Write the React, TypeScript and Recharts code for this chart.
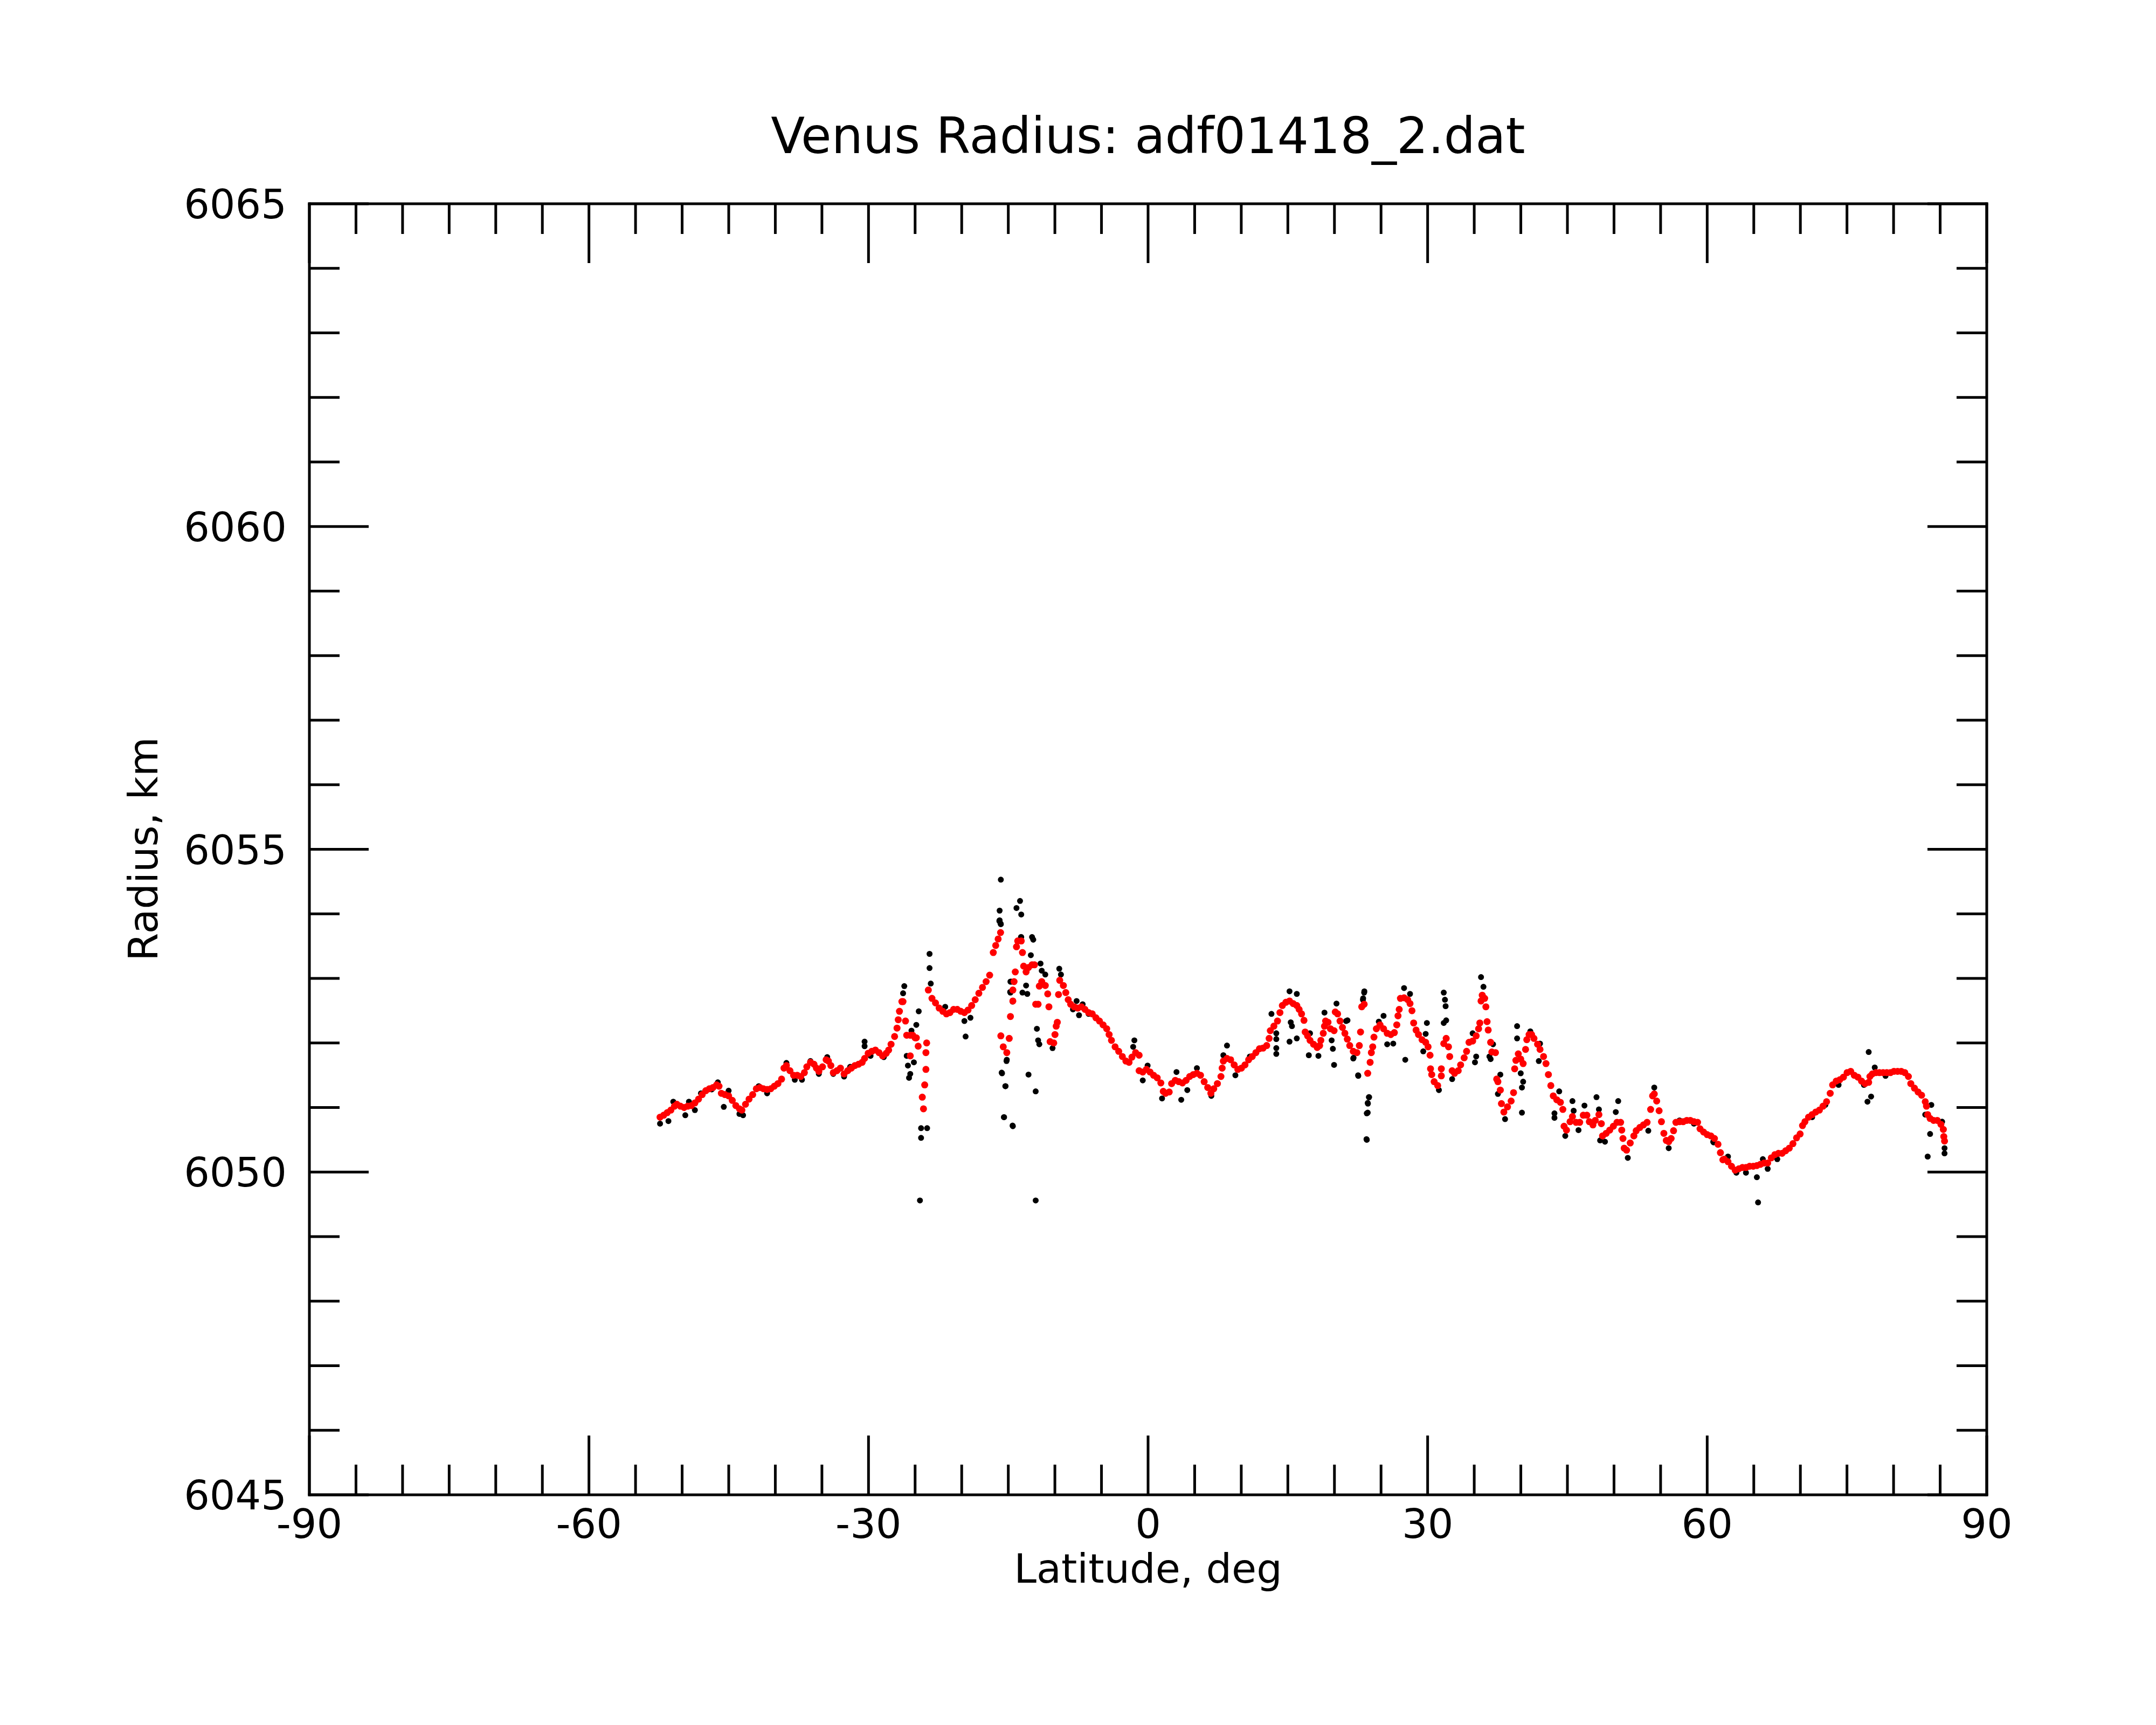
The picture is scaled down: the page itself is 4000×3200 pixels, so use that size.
import React from "react";
import { ScatterChart, Scatter, XAxis, YAxis } from "recharts";

const TITLE = "Venus Radius: adf01418_2.dat";
const X_LABEL = "Latitude, deg";
const Y_LABEL = "Radius, km";

const X_TICKS = [-90, -85, -80, -75, -70, -65, -60, -55, -50, -45, -40, -35, -30, -25, -20, -15, -10, -5, 0, 5, 10, 15, 20, 25, 30, 35, 40, 45, 50, 55, 60, 65, 70, 75, 80, 85, 90];
const X_MAJOR = [-90, -60, -30, 0, 30, 60, 90];
const Y_TICKS = [6045, 6046, 6047, 6048, 6049, 6050, 6051, 6052, 6053, 6054, 6055, 6056, 6057, 6058, 6059, 6060, 6061, 6062, 6063, 6064, 6065];
const Y_MAJOR = [6045, 6050, 6055, 6060, 6065];

// smoothed radius (red)
const RED: [number, number][] = [
  [-52.37, 6050.85], [-51.98, 6050.88], [-51.6, 6050.92], [-51.21, 6050.96], [-50.82, 6051.02], [-50.56, 6051.05], [-50.18, 6051.02], [-49.79, 6051.0], [-49.4, 6051.02], [-49.01, 6051.03],
  [-48.63, 6051.07], [-48.24, 6051.13], [-47.85, 6051.2], [-47.46, 6051.26], [-47.08, 6051.29], [-46.69, 6051.31], [-46.3, 6051.35], [-46.04, 6051.33], [-45.79, 6051.22], [-45.4, 6051.2],
  [-45.01, 6051.18], [-44.62, 6051.11], [-44.24, 6051.03], [-43.85, 6050.98], [-43.59, 6050.96], [-43.2, 6051.05], [-42.82, 6051.13], [-42.43, 6051.2], [-42.04, 6051.29], [-41.65, 6051.31],
  [-41.27, 6051.29], [-40.88, 6051.28], [-40.49, 6051.29], [-40.11, 6051.33], [-39.72, 6051.37], [-39.33, 6051.44], [-39.07, 6051.61], [-38.81, 6051.65], [-38.43, 6051.57], [-38.04, 6051.5],
  [-37.65, 6051.5], [-37.27, 6051.48], [-36.88, 6051.54], [-36.62, 6051.63], [-36.23, 6051.7], [-35.85, 6051.67], [-35.59, 6051.61], [-35.33, 6051.56], [-34.94, 6051.63], [-34.55, 6051.74],
  [-34.3, 6051.72], [-34.04, 6051.65], [-33.78, 6051.54], [-33.39, 6051.57], [-33.01, 6051.61], [-32.62, 6051.52], [-32.23, 6051.57], [-31.84, 6051.61], [-31.46, 6051.65], [-31.07, 6051.67],
  [-30.68, 6051.7], [-30.42, 6051.76], [-30.04, 6051.84], [-29.65, 6051.87], [-29.26, 6051.89], [-28.87, 6051.85], [-28.49, 6051.8], [-28.1, 6051.84], [-27.84, 6051.89], [-27.58, 6051.98],
  [-27.2, 6052.1], [-26.94, 6052.23], [-26.81, 6052.36], [-26.68, 6052.49], [-26.42, 6052.64], [-26.3, 6052.64],
  [-26.03, 6052.34], [-25.9, 6052.12], [-25.52, 6052.12], [-25.52, 6051.8], [-25.26, 6052.12], [-25.0, 6052.08], [-24.87, 6052.08], [-24.67, 6051.95], [-24.23, 6051.16], [-24.1, 6050.98],
  [-23.97, 6051.35], [-23.84, 6051.59], [-23.84, 6051.85], [-23.76, 6052.0],
  [-23.58, 6052.82], [-23.19, 6052.69], [-22.81, 6052.62], [-22.42, 6052.54], [-22.03, 6052.49], [-21.64, 6052.45], [-21.26, 6052.47], [-20.87, 6052.52], [-20.48, 6052.52], [-20.1, 6052.49],
  [-19.71, 6052.47], [-19.32, 6052.51], [-18.93, 6052.58], [-18.55, 6052.67], [-18.16, 6052.77], [-17.77, 6052.86], [-17.38, 6052.95], [-17.0, 6053.05], [-16.61, 6053.4], [-16.35, 6053.51],
  [-16.09, 6053.61], [-15.83, 6053.71],
  [-15.8, 6052.11], [-15.54, 6051.94], [-15.16, 6051.85], [-14.9, 6052.07], [-14.77, 6052.41], [-14.51, 6052.65], [-14.51, 6052.82], [-14.38, 6052.95], [-14.25, 6053.1], [-14.12, 6053.49],
  [-13.99, 6053.58], [-13.61, 6053.58], [-13.48, 6053.4], [-13.35, 6053.19], [-13.09, 6053.1], [-12.83, 6053.17], [-12.45, 6053.21], [-12.19, 6053.21], [-12.06, 6052.6], [-11.8, 6052.6],
  [-11.67, 6052.88], [-11.41, 6052.95], [-11.03, 6052.89], [-10.77, 6052.76], [-10.64, 6052.56], [-10.51, 6052.02], [-10.12, 6052.0], [-9.99, 6052.13], [-9.86, 6052.26], [-9.74, 6052.32],
  [-9.61, 6052.75], [-9.48, 6052.97], [-9.09, 6052.89], [-8.83, 6052.78], [-8.57, 6052.67], [-8.31, 6052.6], [-7.93, 6052.56], [-7.54, 6052.54], [-7.15, 6052.56], [-6.77, 6052.52],
  [-6.38, 6052.47], [-5.99, 6052.45], [-5.6, 6052.39], [-5.22, 6052.34], [-4.83, 6052.28], [-4.44, 6052.22], [-4.18, 6052.13], [-3.93, 6052.04], [-3.54, 6051.94], [-3.15, 6051.87],
  [-2.76, 6051.79], [-2.38, 6051.72], [-2.04, 6051.7], [-1.73, 6051.78], [-1.34, 6051.85], [-0.96, 6051.81], [-0.96, 6051.57], [-0.57, 6051.55], [-0.18, 6051.59], [0.21, 6051.55],
  [0.59, 6051.5], [0.98, 6051.46], [1.37, 6051.38], [1.63, 6051.25], [1.88, 6051.22], [2.27, 6051.24], [2.53, 6051.37], [2.92, 6051.42], [3.3, 6051.4], [3.69, 6051.38],
  [4.08, 6051.42], [4.47, 6051.48], [4.85, 6051.51], [5.24, 6051.53], [5.63, 6051.5], [6.02, 6051.4], [6.4, 6051.31], [6.74, 6051.22], [7.05, 6051.29], [7.44, 6051.37],
  [7.82, 6051.48], [7.95, 6051.61], [8.08, 6051.72], [8.47, 6051.76], [8.86, 6051.74], [9.24, 6051.66], [9.63, 6051.59], [10.02, 6051.61], [10.4, 6051.66], [10.79, 6051.74],
  [11.18, 6051.79], [11.57, 6051.85], [11.95, 6051.91], [12.34, 6051.92], [12.73, 6051.96], [12.99, 6052.07], [13.12, 6052.19], [13.5, 6052.26], [13.89, 6052.34], [14.15, 6052.47],
  [14.41, 6052.58], [14.79, 6052.63], [15.18, 6052.65], [15.57, 6052.61], [15.96, 6052.58], [16.21, 6052.52], [16.47, 6052.45], [16.73, 6052.35], [16.86, 6052.17], [17.12, 6052.11],
  [17.38, 6052.04], [17.76, 6051.98], [18.15, 6051.93], [18.41, 6051.96], [18.54, 6052.04], [18.8, 6052.15], [18.93, 6052.26], [19.05, 6052.34], [19.31, 6052.32], [19.57, 6052.22],
  [19.96, 6052.19], [20.09, 6052.48], [20.34, 6052.45], [20.6, 6052.34], [20.86, 6052.24], [21.12, 6052.15], [21.38, 6052.06], [21.64, 6051.96], [22.02, 6051.87], [22.41, 6051.85],
  [22.67, 6051.96], [22.8, 6052.17], [22.93, 6052.56], [23.19, 6052.6], [23.57, 6051.53], [23.83, 6051.7], [23.96, 6051.85], [24.11, 6051.94], [24.24, 6052.09], [24.5, 6052.22],
  [24.89, 6052.28], [25.27, 6052.22], [25.66, 6052.15], [26.05, 6052.13], [26.43, 6052.16], [26.69, 6052.28], [26.82, 6052.42], [26.95, 6052.52], [27.08, 6052.69], [27.47, 6052.7],
  [27.86, 6052.67], [28.11, 6052.61], [28.32, 6052.5], [28.5, 6052.31], [28.76, 6052.2], [29.02, 6052.13], [29.4, 6052.05], [29.79, 6052.01], [30.05, 6051.94], [30.26, 6051.81],
  [30.31, 6051.6], [30.44, 6051.51], [30.7, 6051.4], [31.08, 6051.34], [31.47, 6051.49], [31.47, 6051.6], [31.73, 6051.99], [31.99, 6052.07], [32.24, 6051.94], [32.37, 6051.79],
  [32.63, 6051.57], [32.89, 6051.53], [33.28, 6051.57], [33.54, 6051.66], [33.92, 6051.77], [34.18, 6051.87], [34.44, 6052.01], [34.83, 6052.03], [35.21, 6052.11], [35.47, 6052.22],
  [35.6, 6052.31], [35.73, 6052.65], [35.86, 6052.74], [36.12, 6052.69], [36.25, 6052.56], [36.38, 6052.33], [36.5, 6052.2], [36.76, 6052.01], [36.89, 6051.86], [37.28, 6051.85],
  [37.41, 6051.44], [37.54, 6051.4], [37.8, 6051.27], [37.92, 6051.06], [38.18, 6050.93], [38.57, 6051.01], [38.96, 6051.1], [39.22, 6051.23], [39.34, 6051.6], [39.47, 6051.73],
  [39.73, 6051.83], [39.99, 6051.75], [40.25, 6051.68], [40.51, 6051.9], [40.64, 6052.05], [40.89, 6052.13], [41.15, 6052.13], [41.41, 6052.07], [41.8, 6051.98], [42.06, 6051.9],
  [42.44, 6051.79], [42.7, 6051.68], [42.96, 6051.51], [43.22, 6051.34], [43.48, 6051.18], [43.86, 6051.12], [44.25, 6051.08], [44.51, 6050.97], [44.64, 6050.71], [44.9, 6050.65],
  [45.28, 6050.78], [45.54, 6050.86], [45.93, 6050.77], [46.32, 6050.77], [46.7, 6050.88], [47.09, 6050.88], [47.35, 6050.78], [47.74, 6050.73], [47.99, 6050.8], [48.38, 6050.89],
  [48.64, 6050.75], [48.77, 6050.56], [49.16, 6050.6], [49.54, 6050.65], [49.93, 6050.71], [50.32, 6050.77], [50.71, 6050.77], [50.83, 6050.65], [50.96, 6050.52], [51.09, 6050.37],
  [51.35, 6050.34], [51.74, 6050.45], [52.13, 6050.56], [52.38, 6050.64], [52.77, 6050.69], [53.16, 6050.73], [53.55, 6050.77], [53.93, 6050.97], [54.14, 6051.18], [54.32, 6051.21],
  [54.58, 6051.1], [54.84, 6050.95], [55.09, 6050.78], [55.35, 6050.6], [55.61, 6050.49], [55.87, 6050.47], [56.13, 6050.52], [56.39, 6050.64], [56.64, 6050.77], [57.03, 6050.78],
  [57.42, 6050.78], [57.81, 6050.8], [58.19, 6050.8], [58.58, 6050.78], [58.97, 6050.77], [59.23, 6050.67], [59.61, 6050.62], [60.0, 6050.58], [60.39, 6050.56], [60.78, 6050.52],
  [61.16, 6050.43], [61.42, 6050.3], [61.68, 6050.19], [61.84, 6050.2], [62.23, 6050.16], [62.61, 6050.09], [63.0, 6050.03], [63.39, 6050.05], [63.78, 6050.07], [64.16, 6050.07],
  [64.55, 6050.09], [64.94, 6050.09], [65.33, 6050.1], [65.71, 6050.12], [66.1, 6050.14], [66.49, 6050.14], [66.88, 6050.22], [67.26, 6050.27], [67.65, 6050.29], [68.04, 6050.29],
  [68.42, 6050.33], [68.81, 6050.37], [69.2, 6050.44], [69.59, 6050.53], [69.97, 6050.59], [70.23, 6050.72], [70.49, 6050.78], [70.88, 6050.85], [71.26, 6050.89], [71.65, 6050.93],
  [72.04, 6050.96], [72.43, 6051.02], [72.81, 6051.09], [73.2, 6051.22], [73.46, 6051.35], [73.85, 6051.41], [74.23, 6051.43], [74.62, 6051.47], [75.01, 6051.54], [75.4, 6051.56],
  [75.78, 6051.5], [76.17, 6051.47], [76.56, 6051.41], [76.94, 6051.37], [77.33, 6051.39], [77.46, 6051.48], [77.72, 6051.52], [78.11, 6051.54], [78.49, 6051.54], [78.88, 6051.54],
  [79.27, 6051.54], [79.66, 6051.54], [80.04, 6051.56], [80.43, 6051.56], [80.82, 6051.56], [81.21, 6051.54], [81.59, 6051.48], [81.85, 6051.37], [82.24, 6051.3], [82.63, 6051.24],
  [83.01, 6051.19], [83.4, 6051.09], [83.53, 6051.02], [83.66, 6050.89], [83.92, 6050.83], [84.3, 6050.8], [84.69, 6050.8], [85.08, 6050.74], [85.34, 6050.66], [85.39, 6050.55],
  [85.47, 6050.48],
];

// raw radius (black)
const BLACK: [number, number][] = [
  [-52.37, 6050.75], [-51.47, 6050.79], [-50.95, 6051.09], [-49.66, 6050.88], [-49.27, 6051.09], [-48.63, 6050.96], [-47.98, 6051.22], [-46.82, 6051.28], [-46.17, 6051.39], [-45.53, 6051.01],
  [-45.01, 6051.26], [-43.85, 6050.9], [-43.46, 6050.88], [-41.78, 6051.33], [-40.88, 6051.22], [-38.81, 6051.69], [-37.91, 6051.43], [-37.14, 6051.43], [-36.23, 6051.72], [-35.33, 6051.52],
  [-34.43, 6051.78], [-33.78, 6051.52], [-32.62, 6051.48], [-31.97, 6051.63], [-30.42, 6052.02], [-30.42, 6051.95], [-29.78, 6051.8], [-28.36, 6051.78], [-26.16, 6052.88], [-26.29, 6052.77],
  [-24.61, 6052.49], [-24.87, 6052.28], [-25.39, 6052.19], [-25.9, 6051.8], [-25.77, 6051.65], [-25.13, 6051.7], [-25.52, 6051.52], [-25.65, 6051.46], [-24.36, 6050.68], [-23.71, 6050.68],
  [-24.36, 6050.53], [-24.48, 6049.56], [-23.45, 6053.38], [-23.45, 6053.16], [-23.32, 6052.92], [-21.77, 6052.56], [-19.71, 6052.34], [-19.06, 6052.39], [-19.58, 6052.1], [-15.96, 6053.89],
  [-15.83, 6053.85], [-14.67, 6052.95], [-14.8, 6052.79], [-14.54, 6052.64], [-15.19, 6051.72], [-15.71, 6051.54], [-15.32, 6051.33], [-15.45, 6050.85], [-14.54, 6050.72], [-13.64, 6053.64],
  [-15.8, 6054.53], [-15.93, 6054.05], [-15.93, 6053.9], [-15.8, 6053.84], [-14.12, 6054.09], [-13.74, 6054.2], [-13.61, 6053.99], [-13.61, 6053.64], [-12.45, 6053.64], [-12.32, 6053.6],
  [-12.58, 6053.36], [-11.54, 6053.23], [-11.41, 6053.12], [-11.03, 6053.06], [-13.09, 6052.89], [-13.48, 6052.78], [-12.96, 6052.76], [-14.77, 6052.95], [-14.77, 6052.78], [-11.93, 6052.22],
  [-11.8, 6052.04], [-11.67, 6051.98], [-10.25, 6051.92], [-15.16, 6051.74], [-15.67, 6051.53], [-15.29, 6051.33], [-12.83, 6051.51], [-12.06, 6051.25], [-15.47, 6050.85], [-14.51, 6050.71],
  [-12.06, 6049.56], [-9.53, 6053.15], [-9.35, 6053.06], [-7.67, 6052.65], [-8.06, 6052.52], [-7.41, 6052.43], [-7.02, 6052.6], [-6.38, 6052.45], [-1.47, 6052.04], [-1.6, 6051.94],
  [-0.57, 6051.42], [-0.05, 6051.65], [1.5, 6051.14], [3.05, 6051.55], [3.56, 6051.12], [4.21, 6051.27], [5.24, 6051.61], [6.79, 6051.18], [8.47, 6051.96], [8.08, 6051.81],
  [9.37, 6051.5], [10.92, 6051.79], [12.21, 6051.92], [13.24, 6052.45], [13.76, 6052.15], [13.76, 6052.06], [13.76, 6051.92], [13.76, 6051.83], [15.18, 6052.8], [15.96, 6052.76],
  [15.31, 6052.32], [15.44, 6052.26], [15.18, 6052.02], [15.96, 6052.07], [17.38, 6052.15], [17.25, 6051.81], [18.28, 6051.8], [18.93, 6052.47], [19.7, 6052.04], [19.83, 6051.91],
  [19.96, 6051.66], [20.22, 6052.61], [21.25, 6052.34], [22.02, 6051.76], [22.54, 6051.5], [23.19, 6052.78], [23.06, 6052.67], [23.7, 6051.16], [23.57, 6051.07], [23.57, 6050.92],
  [23.44, 6050.51], [23.21, 6052.8], [23.08, 6052.69], [21.4, 6052.35], [22.05, 6051.77], [22.56, 6051.49], [23.72, 6051.16], [23.59, 6051.06], [23.47, 6050.91], [23.47, 6050.5],
  [24.76, 6052.33], [25.27, 6052.42], [25.66, 6051.98], [26.31, 6051.99], [27.6, 6051.74], [27.47, 6052.85], [28.11, 6052.76], [29.92, 6052.31], [29.79, 6052.14], [29.53, 6051.87],
  [31.21, 6051.27], [31.73, 6052.78], [31.86, 6052.67], [31.93, 6052.57], [31.99, 6052.35], [31.73, 6052.31], [32.63, 6051.44], [34.83, 6052.15], [35.21, 6051.79], [35.08, 6051.7],
  [35.73, 6053.02], [35.99, 6052.87], [36.63, 6051.79], [36.76, 6051.75], [37.02, 6051.98], [37.8, 6051.51], [37.54, 6051.21], [38.31, 6050.82], [39.6, 6052.26], [39.6, 6052.07],
  [39.99, 6051.53], [40.25, 6051.4], [40.12, 6051.31], [40.12, 6050.92], [41.02, 6052.18], [42.06, 6051.99], [41.93, 6051.72], [44.12, 6051.25], [43.61, 6050.91], [43.61, 6050.84],
  [44.77, 6050.56], [45.54, 6051.1], [45.67, 6050.95], [46.19, 6050.65], [46.83, 6051.03], [48.12, 6051.16], [48.38, 6050.97], [48.51, 6050.49], [49.03, 6050.47], [50.45, 6051.1],
  [50.19, 6050.93], [51.48, 6050.22], [53.68, 6050.64], [54.32, 6051.31], [55.87, 6050.37], [57.03, 6050.8], [58.58, 6050.75], [60.65, 6050.47], [60.68, 6050.46], [62.23, 6050.24],
  [63.13, 6049.99], [64.16, 6049.99], [65.33, 6049.92], [65.46, 6049.53], [65.97, 6050.2], [66.49, 6050.05], [67.52, 6050.2], [71.26, 6050.85], [72.68, 6051.04], [74.1, 6051.35],
  [76.82, 6051.35], [77.33, 6051.86], [77.59, 6051.17], [77.2, 6051.09], [77.98, 6051.62], [79.14, 6051.49], [83.66, 6050.24], [83.92, 6050.59], [84.05, 6051.04], [85.21, 6050.78],
  [85.47, 6050.37], [85.47, 6050.29], [83.4, 6050.89],
];

const redData = RED.map(([lat, r]) => ({ lat, r }));
const blackData = BLACK.map(([lat, r]) => ({ lat, r }));

const FONT = "DejaVu Sans";
const TICK_FS = 75;
const MAJOR_LEN = 110;
const MINOR_LEN = 56;
const LW = 5;

const BottomTick = (props: any) => {
  const { x, y, payload } = props;
  const v = payload.value;
  const major = X_MAJOR.includes(v);
  return (
    <g>
      <line x1={x} y1={y} x2={x} y2={y - (major ? MAJOR_LEN : MINOR_LEN)} stroke="#000" strokeWidth={LW} />
      {major && (
        <text x={x} y={y + 80} textAnchor="middle" fontSize={TICK_FS} fontFamily={FONT} fill="#000">
          {String(v)}
        </text>
      )}
    </g>
  );
};

const TopTick = (props: any) => {
  const { x, y, payload } = props;
  const major = X_MAJOR.includes(payload.value);
  return <line x1={x} y1={y} x2={x} y2={y + (major ? MAJOR_LEN : MINOR_LEN)} stroke="#000" strokeWidth={LW} />;
};

const LeftTick = (props: any) => {
  const { x, y, payload } = props;
  const v = payload.value;
  const major = Y_MAJOR.includes(v);
  return (
    <g>
      <line x1={x} y1={y} x2={x + (major ? MAJOR_LEN : MINOR_LEN)} y2={y} stroke="#000" strokeWidth={LW} />
      {major && (
        <text x={x - 42} y={y} dy="0.36em" textAnchor="end" fontSize={TICK_FS} fontFamily={FONT} fill="#000">
          {String(v)}
        </text>
      )}
    </g>
  );
};

const RightTick = (props: any) => {
  const { x, y, payload } = props;
  const major = Y_MAJOR.includes(payload.value);
  return <line x1={x} y1={y} x2={x - (major ? MAJOR_LEN : MINOR_LEN)} y2={y} stroke="#000" strokeWidth={LW} />;
};

const axisLine = { stroke: "#000", strokeWidth: LW, strokeLinecap: "square" as const };

export default function App() {
  return (
    <div style={{ position: "absolute", left: 0, top: 0, width: 4000, height: 3200, background: "#fff" }}>
      <ScatterChart width={4000} height={3200} margin={{ top: 377, right: 313, bottom: 426, left: 573 }}>
        <XAxis xAxisId="b" dataKey="lat" type="number" domain={[-90, 90]} ticks={X_TICKS} interval={0} height={1}
          tickSize={0} tickMargin={0} tickLine={false} axisLine={axisLine} tick={BottomTick} allowDataOverflow />
        <XAxis xAxisId="t" orientation="top" dataKey="lat" type="number" domain={[-90, 90]} ticks={X_TICKS} interval={0} height={1}
          tickSize={0} tickMargin={0} tickLine={false} axisLine={axisLine} tick={TopTick} allowDataOverflow />
        <YAxis yAxisId="l" dataKey="r" type="number" domain={[6045, 6065]} ticks={Y_TICKS} interval={0} width={1}
          tickSize={0} tickMargin={0} tickLine={false} axisLine={axisLine} tick={LeftTick} allowDataOverflow />
        <YAxis yAxisId="rr" orientation="right" dataKey="r" type="number" domain={[6045, 6065]} ticks={Y_TICKS} interval={0} width={1}
          tickSize={0} tickMargin={0} tickLine={false} axisLine={axisLine} tick={RightTick} allowDataOverflow />
        <Scatter xAxisId="b" yAxisId="l" data={blackData} isAnimationActive={false}
          shape={(p: any) => <circle cx={p.cx} cy={p.cy} r={5.5} fill="#000" />} />
        <Scatter xAxisId="b" yAxisId="l" data={redData} isAnimationActive={false}
          shape={(p: any) => <circle cx={p.cx} cy={p.cy} r={6.5} fill="#ff0000" />} />
      </ScatterChart>
      <svg width={4000} height={3200} style={{ position: "absolute", left: 0, top: 0, pointerEvents: "none" }}>
        <text x={2130} y={284} textAnchor="middle" fontSize={92} fontFamily={FONT} fill="#000">{TITLE}</text>
        <text x={2130} y={2936} textAnchor="middle" fontSize={TICK_FS} fontFamily={FONT} fill="#000">{X_LABEL}</text>
        <text x={292} y={1575} textAnchor="middle" fontSize={TICK_FS} fontFamily={FONT} fill="#000" transform="rotate(-90 292 1575)">{Y_LABEL}</text>
      </svg>
    </div>
  );
}
